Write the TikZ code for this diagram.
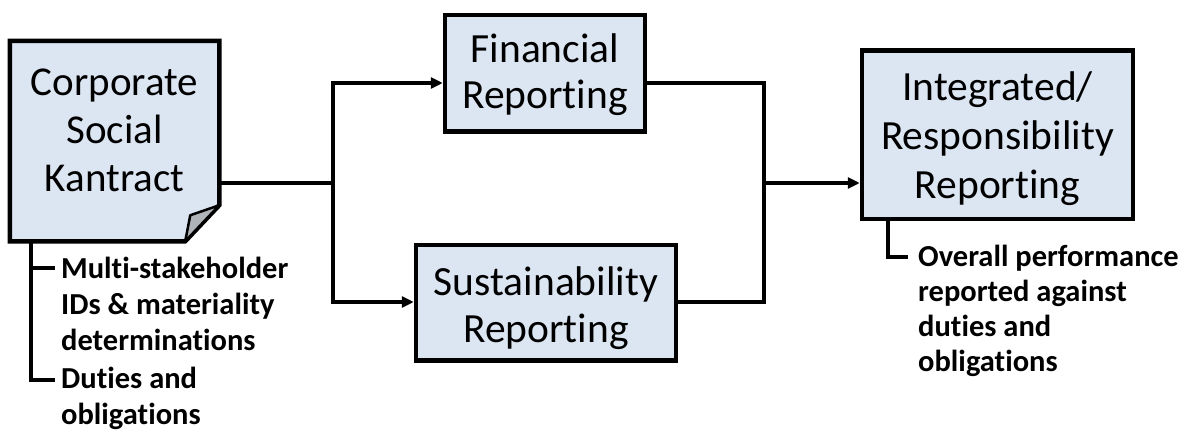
\documentclass[tikz,border=0pt]{standalone}
\usepackage{fontspec}
\setmainfont{Carlito}[Ligatures=NoCommon, RawFeature={-liga;-clig;-calt}]
\usetikzlibrary{arrows.meta}

\definecolor{boxfill}{HTML}{DCE6F2}
\definecolor{flapfill}{HTML}{B0B4B8}

\tikzset{
  frame/.style={draw=black, line width=4.5pt, fill=boxfill, rectangle,
    inner sep=0pt, line join=miter},
  boxtext/.style={inner sep=0pt, align=center,
    font=\fontsize{41.5}{47}\selectfont},
  notetext/.style={inner sep=0pt, align=left, anchor=north west,
    font=\fontsize{30.5}{36}\selectfont\bfseries},
  conn/.style={draw=black, line width=3.5pt, line join=miter},
  arrow/.style={conn, -{Triangle[length=12pt,width=11pt]}},
}

\begin{document}
\begin{tikzpicture}[x=1pt, y=-1pt]
  \useasboundingbox (0,0) rectangle (1184,434);

  % ---- boxes ----
  \node[minimum width=205pt, minimum height=196pt, inner sep=0pt,
        outer sep=2.25pt] (csk) at (114.5,141) {};
  \draw[frame]
    (csk.north west) -- (csk.north east)
    -- ([yshift=36pt]csk.south east)
    -- ([xshift=-34pt]csk.south east)
    -- (csk.south west) -- cycle;
  % turned-up corner
  \draw[line width=2.5pt, fill=flapfill, line join=round]
    ([xshift=-34pt]csk.south east)
    -- ([xshift=-29pt,yshift=26pt]csk.south east)
    -- ([yshift=36pt]csk.south east) -- cycle;
  \node[boxtext, font=\fontsize{41}{48}\selectfont] (csktext)
    at ([yshift=11pt]csk.center) {Corporate\\Social\\Kantract};

  \node[frame, minimum width=200pt, minimum height=116.5pt] (fin)
    at (545,73.25) {};
  \node[boxtext, font=\fontsize{41.5}{46}\selectfont] (fintext)
    at ([yshift=-1.75pt]fin.center) {Financial\\Reporting};

  \node[frame, minimum width=260pt, minimum height=115.5pt] (sus)
    at (546,302.75) {};
  \node[boxtext] (sustext)
    at ([yshift=-5.5pt]sus.center) {Sustainability\\Reporting};

  \node[frame, minimum width=271pt, minimum height=168.5pt] (intg)
    at (997.5,134.75) {};
  \node[boxtext, font=\fontsize{41.5}{49}\selectfont] (intgtext)
    at ([yshift=-3.75pt]intg.center) {Integrated/\\Responsibility\\Reporting};

  % ---- notes ----
  \node[notetext] (note1) at (61,257)
    {Multi-stakeholder\\IDs \& materiality\\determinations};
  \node[notetext] (note2) at (61,367) {Duties and\\obligations};
  \node[notetext, font=\fontsize{30.5}{35}\selectfont\bfseries] (note3)
    at (918,245) {Overall performance\\reported against\\duties and\\obligations};

  % ---- flow ----
  \coordinate (split) at (333,183);
  \coordinate (join)  at (764,183);
  \coordinate (fy) at (0,83);
  \coordinate (sy) at (0,302);

  \draw[conn] (csk.east |- split) -- (split);
  \draw[arrow] (split) |- (fin.west |- fy);
  \draw[arrow] (split) |- (sus.west |- sy);
  \draw[conn] (fin.east |- fy) -| (join);
  \draw[conn] (sus.east |- sy) -| (join);
  \draw[arrow] (join) -- (intg.west |- join);

  % ---- note brackets ----
  \coordinate (k0) at ([xshift=21pt]csk.south west);
  \coordinate (k1) at (55,268);
  \coordinate (k2) at (55,380);
  \draw[conn] (k0) |- (k2);
  \draw[conn] (k0 |- k1) -- (k1);

  \coordinate (r0) at ([xshift=28pt]intg.south west);
  \coordinate (r1) at (908,257);
  \draw[conn] (r0) |- (r1);
\end{tikzpicture}
\end{document}
